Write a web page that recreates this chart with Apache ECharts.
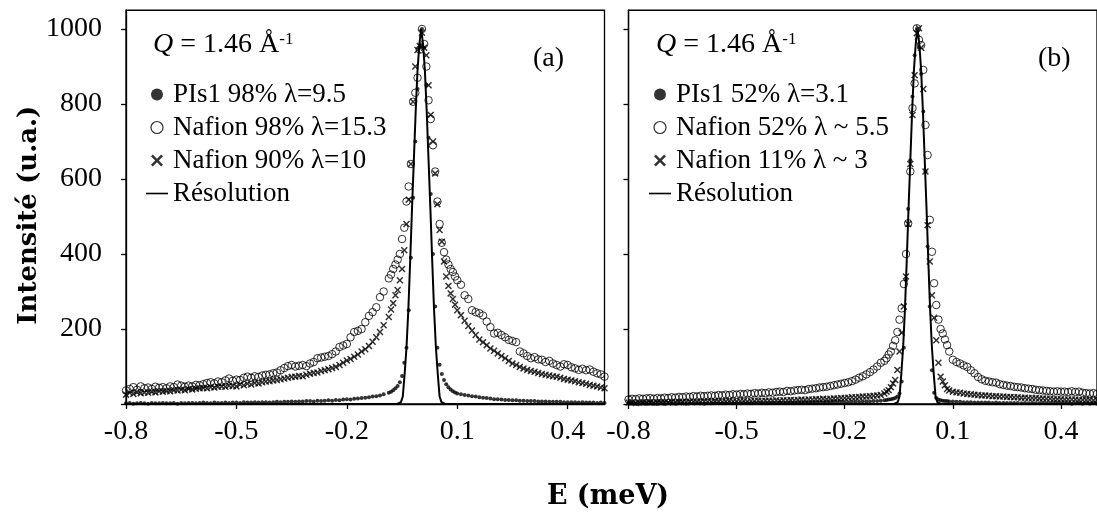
<!DOCTYPE html>
<html>
<head>
<meta charset="utf-8">
<script src="https://cdn.jsdelivr.net/npm/echarts@6/dist/echarts.min.js"></script>
<style>html,body{margin:0;padding:0;background:#fff}#c{width:1097px;height:513px}</style>
</head>
<body>
<div id="c"></div>
<script>
// ---- energy grids (meV) ----
const eTailL = [-0.80,-0.79,-0.78,-0.77,-0.76,-0.75,-0.74,-0.73,-0.72,-0.71,
  -0.70,-0.69,-0.68,-0.67,-0.66,-0.65,-0.64,-0.63,-0.62,-0.61,
  -0.60,-0.59,-0.58,-0.57,-0.56,-0.55,-0.54,-0.53,-0.52,-0.51,
  -0.50,-0.49,-0.48,-0.47,-0.46,-0.45,-0.44,-0.43,-0.42,-0.41,
  -0.40,-0.39,-0.38,-0.37,-0.36,-0.35,-0.34,-0.33,-0.32,-0.31,
  -0.30,-0.29,-0.28,-0.27,-0.26,-0.25,-0.24,-0.23,-0.22,-0.21,
  -0.20,-0.19,-0.18,-0.17,-0.16,-0.15,-0.14,-0.13,-0.12,-0.11,
  -0.10];
const eNearA = [-0.086,-0.080,-0.074,-0.068,-0.062,-0.056,-0.050,-0.044,-0.038,-0.032,
  -0.026,-0.020,-0.014,-0.008,-0.002,0.004,0.010,0.016,0.022,0.028,
  0.034,0.040,0.046,0.052,0.058,0.064,0.070,0.076,0.082,0.088,
  0.094];
const eNearB = [-0.090,-0.084,-0.078,-0.072,-0.066,-0.060,-0.054,-0.048,-0.042,-0.036,
  -0.030,-0.024,-0.018,-0.012,-0.006,0.000,0.006,0.012,0.018,0.024,
  0.030,0.036,0.042,0.048,0.054,0.060,0.066,0.072,0.078,0.084,
  0.090];
const eTailR = [0.10,0.11,0.12,0.13,0.14,0.15,0.16,0.17,0.18,0.19,
  0.20,0.21,0.22,0.23,0.24,0.25,0.26,0.27,0.28,0.29,
  0.30,0.31,0.32,0.33,0.34,0.35,0.36,0.37,0.38,0.39,
  0.40,0.41,0.42,0.43,0.44,0.45,0.46,0.47,0.48,0.49,
  0.50];

// ---- resolution curve ----
const resE = [-0.80,-0.063,-0.058,-0.053,-0.048,-0.043,-0.038,-0.033,-0.028,-0.023,-0.018,-0.013,-0.008,-0.003,
  0.002,0.007,0.012,0.017,0.022,0.027,0.032,0.037,0.042,0.047,0.052,0.057,0.062,0.067,0.50];
const resI = [0,0,1,5,20,80,150,250,380,520,650,780,890,960,
  1000,960,890,780,650,520,380,250,150,80,20,5,1,0,0];

// ---- panel (a) ----
const pis98 = [2,3,1,2,3,2,1,3,2,2,
  3,2,2,3,1,3,2,3,3,2,
  3,4,3,2,4,3,3,4,3,4,
  4,3,5,4,4,5,4,5,5,4,
  5,6,5,6,6,7,6,7,7,8,
  8,7,9,8,9,10,9,11,10,12,
  13,12,14,15,16,17,18,20,21,23,
  26,
  30,33,37,42,48,58,75,110,150,250,
  390,550,700,840,950,1000,950,850,710,560,
  400,260,150,105,80,64,53,45,39,34,
  31,
  28,26,24,23,21,20,18,17,16,15,
  13,13,12,11,11,10,10,9,9,8,
  8,8,7,7,7,6,6,6,6,5,
  5,5,5,4,5,4,4,4,3,4,
  3];
const naf98 = [36,40,45,38,47,42,44,40,46,43,
  45,42,47,45,52,49,46,49,47,51,
  50,53,56,58,55,60,58,63,68,62,
  65,64,70,73,70,74,72,76,78,79,
  82,84,90,96,101,104,100,102,104,101,
  108,112,122,124,126,128,133,140,152,156,
  160,178,192,195,200,218,235,245,258,285,
  300,
  335,345,360,372,385,400,440,470,540,580,
  640,806,830,870,945,1000,960,900,810,760,
  690,620,540,480,430,405,385,372,360,352,
  340,
  330,318,290,280,250,245,242,236,220,205,
  188,190,184,178,171,168,165,140,135,128,
  122,125,119,118,112,115,108,104,100,106,
  104,98,95,91,94,90,92,86,82,79,
  73];
const naf90 = [25,30,27,32,29,31,30,33,31,34,
  33,35,34,37,36,38,37,40,39,41,
  42,43,42,45,44,46,47,46,49,48,
  47,52,50,54,52,56,55,58,60,61,
  63,64,66,68,70,72,73,75,74,78,
  81,83,84,88,90,93,96,99,104,110,
  116,120,126,132,140,146,155,166,178,192,
  210,
  232,252,269,290,304,330,360,410,480,545,
  640,806,900,944,955,990,950,930,850,771,
  700,615,533,464,433,380,340,315,295,280,
  265,
  250,237,222,208,196,184,172,165,157,148,
  142,135,128,122,115,108,104,99,95,91,
  88,86,83,80,78,76,74,73,70,67,
  65,63,61,58,56,54,51,49,47,44,
  42];

// ---- panel (b) ----
const pis52 = [1,2,1,1,2,1,2,1,1,2,
  1,2,2,1,2,2,1,2,2,2,
  2,1,2,2,3,2,2,2,3,2,
  3,2,3,3,2,3,3,3,2,3,
  3,3,4,3,3,4,3,4,4,4,
  4,4,5,4,5,5,5,6,5,6,
  5,5,6,6,6,7,7,7,8,8,
  9,
  10,11,12,13,14,16,20,28,60,150,
  330,520,650,820,930,1000,950,880,780,620,
  420,260,90,30,16,12,10,9,8,8,
  7,
  7,6,6,5,5,5,4,4,4,4,
  4,3,4,3,3,3,3,3,3,2,
  3,2,3,2,2,3,2,2,2,2,
  2,2,2,1,2,2,1,2,1,2,
  1];
const naf52 = [12,14,13,15,14,15,16,14,16,15,
  17,16,18,17,19,18,20,19,21,20,
  22,21,22,23,22,24,23,25,24,26,
  25,27,26,28,27,29,28,30,29,31,
  30,32,33,32,35,34,36,37,38,37,
  40,41,42,44,45,46,48,50,52,54,
  56,58,61,65,70,74,79,85,92,100,
  110,
  115,122,132,140,155,170,192,225,255,320,
  400,482,620,789,855,1002,971,957,891,744,
  664,491,406,322,264,225,200,188,172,157,
  140,
  118,112,108,103,99,90,82,72,66,62,
  60,58,57,53,51,49,48,46,45,44,
  42,41,40,38,37,36,35,34,33,34,
  33,33,32,34,32,33,30,29,28,29,
  27];
const naf11 = [4,5,3,4,5,4,5,4,5,5,
  5,4,6,5,5,6,5,6,6,5,
  6,7,6,6,7,7,6,7,8,7,
  7,8,8,7,8,8,9,8,9,9,
  9,10,9,10,10,11,10,11,12,11,
  12,12,13,13,14,13,14,15,15,16,
  16,17,18,18,19,20,20,21,22,23,
  24,
  28,33,37,45,55,64,91,140,190,260,
  340,480,640,771,877,989,1002,950,840,620,
  477,380,290,230,170,110,73,60,50,40,
  36,
  33,31,30,28,27,26,25,24,23,23,
  22,21,21,20,20,19,19,18,18,17,
  17,16,16,16,15,15,14,14,13,13,
  13,12,12,12,12,11,11,11,11,10,
  11];

const xTicks = [-0.8,-0.5,-0.2,0.1,0.4];
const yTicks = [0,200,400,600,800,1000];
const yLabels = [200,400,600,800,1000];
const namesA = ['PIs1 98% λ=9.5','Nafion 98% λ=15.3','Nafion 90% λ=10','Résolution'];
const namesB = ['PIs1 52% λ=3.1','Nafion 52% λ ~ 5.5','Nafion 11% λ ~ 3','Résolution'];

const eA = [...eTailL, ...eNearA, ...eTailR];
const eB = [...eTailL, ...eNearB, ...eTailR];
const pair = (xs, ys) => xs.map((x, i) => [x, ys[i]]);

const SERIF = 'Liberation Serif';
const crossPath = 'path://M0,1.5L1.5,0L5,3.5L8.5,0L10,1.5L6.5,5L10,8.5L8.5,10L5,6.5L1.5,10L0,8.5L3.5,5Z';
const dashPath = 'path://M0,0L22,0L22,1.6L0,1.6Z';
const lineStyleAx = {color:'#000', width:1.3};

function xAxis(idx){
  return {type:'value', gridIndex:idx, min:-0.8, max:0.5,
    axisLine:{show:true, lineStyle:lineStyleAx, onZero:false},
    axisTick:{show:true, inside:false, length:5, lineStyle:lineStyleAx, customValues:xTicks},
    axisLabel:{show:true, margin:14, color:'#000', fontFamily:SERIF, fontSize:28,
      customValues:xTicks, formatter:v => (Math.round(v*10)/10).toFixed(1)},
    splitLine:{show:false}};
}
function yAxis(idx, labels){
  const a = {type:'value', gridIndex:idx, min:0, max:1050,
    axisLine:{show:true, lineStyle:lineStyleAx, onZero:false},
    axisTick:{show:true, inside:false, length:5, lineStyle:lineStyleAx, customValues:yTicks},
    axisLabel:{show:labels, margin:24, color:'#000', fontFamily:SERIF, fontSize:28, customValues:yLabels,
      formatter:v => String(Math.round(v))},
    splitLine:{show:false}};
  if (labels) {
    a.name = 'Intensité (u.a.)';
    a.nameLocation = 'middle';
    a.nameGap = 78;
    a.nameTextStyle = {fontFamily:'DejaVu Serif', fontWeight:'bold', fontSize:26, color:'#000', padding:[0,0,0,-16]};
  }
  return a;
}
function seriesFor(idx, names, e, dots, circ, cross){
  return [
    {name:names[0], type:'scatter', xAxisIndex:idx, yAxisIndex:idx, symbol:'circle', symbolSize:4,
      itemStyle:{color:'#000'}, data:pair(e, dots)},
    {name:names[1], type:'scatter', xAxisIndex:idx, yAxisIndex:idx, symbol:'circle', symbolSize:7.5,
      itemStyle:{color:'rgba(0,0,0,0)', borderColor:'#000', borderWidth:1}, data:pair(e, circ)},
    {name:names[2], type:'scatter', xAxisIndex:idx, yAxisIndex:idx, symbol:crossPath, symbolSize:7,
      itemStyle:{color:'#000'}, data:pair(e, cross)},
    {name:names[3], type:'line', xAxisIndex:idx, yAxisIndex:idx, symbol:'none', showSymbol:false,
      lineStyle:{color:'#000', width:2}, itemStyle:{color:'#000'}, data:pair(resE, resI), z:5}
  ];
}
function legendFor(left, names){
  return {left:left, top:81, orient:'vertical', itemWidth:22, itemHeight:12, itemGap:6, padding:0,
    selectedMode:false,
    textStyle:{fontFamily:SERIF, fontSize:27, color:'#000', lineHeight:27},
    data:[
      {name:names[0], icon:'circle', itemStyle:{color:'#000', borderWidth:0}},
      {name:names[1], icon:'circle', itemStyle:{color:'rgba(0,0,0,0)', borderColor:'#000', borderWidth:1.2}},
      {name:names[2], icon:crossPath, itemStyle:{color:'#000', borderWidth:0}},
      {name:names[3], icon:dashPath, itemStyle:{color:'#000', borderWidth:0}}
    ]};
}
const qTitle = (left) => ({text:'{i|Q} = 1.46 Å{s|-1}', left:left, top:26,
  textStyle:{fontFamily:SERIF, fontSize:28, fontWeight:'normal', color:'#000',
    rich:{i:{fontFamily:SERIF, fontSize:28, fontStyle:'italic', color:'#000'},
          s:{fontFamily:SERIF, fontSize:17, verticalAlign:'top', color:'#000'}}}});

const chart = echarts.init(document.getElementById('c'), null, {renderer:'canvas'});
chart.setOption({
  backgroundColor:'#fff',
  animation:false,
  title:[
    qTitle(148), qTitle(651),
    {text:'(a)', left:528, top:40, textStyle:{fontFamily:SERIF, fontSize:28, fontWeight:'normal', color:'#000'}},
    {text:'(b)', left:1033, top:40, textStyle:{fontFamily:SERIF, fontSize:28, fontWeight:'normal', color:'#000'}},
    {text:'E (meV)', left:603, textAlign:'center', top:478, textStyle:{fontFamily:'DejaVu Serif', fontWeight:'bold', fontSize:27, color:'#000'}}
  ],
  legend:[legendFor(146, namesA), legendFor(649, namesB)],
  grid:[
    {left:126, top:10.25, width:478.5, height:393.75, show:true, borderColor:'#000', borderWidth:1.3, backgroundColor:'transparent'},
    {left:628.5, top:10.25, width:478.5, height:393.75, show:true, borderColor:'#000', borderWidth:1.3, backgroundColor:'transparent'}
  ],
  xAxis:[xAxis(0), xAxis(1)],
  yAxis:[yAxis(0, true), yAxis(1, false)],
  series:[...seriesFor(0, namesA, eA, pis98, naf98, naf90), ...seriesFor(1, namesB, eB, pis52, naf52, naf11)]
});
</script>
</body>
</html>
